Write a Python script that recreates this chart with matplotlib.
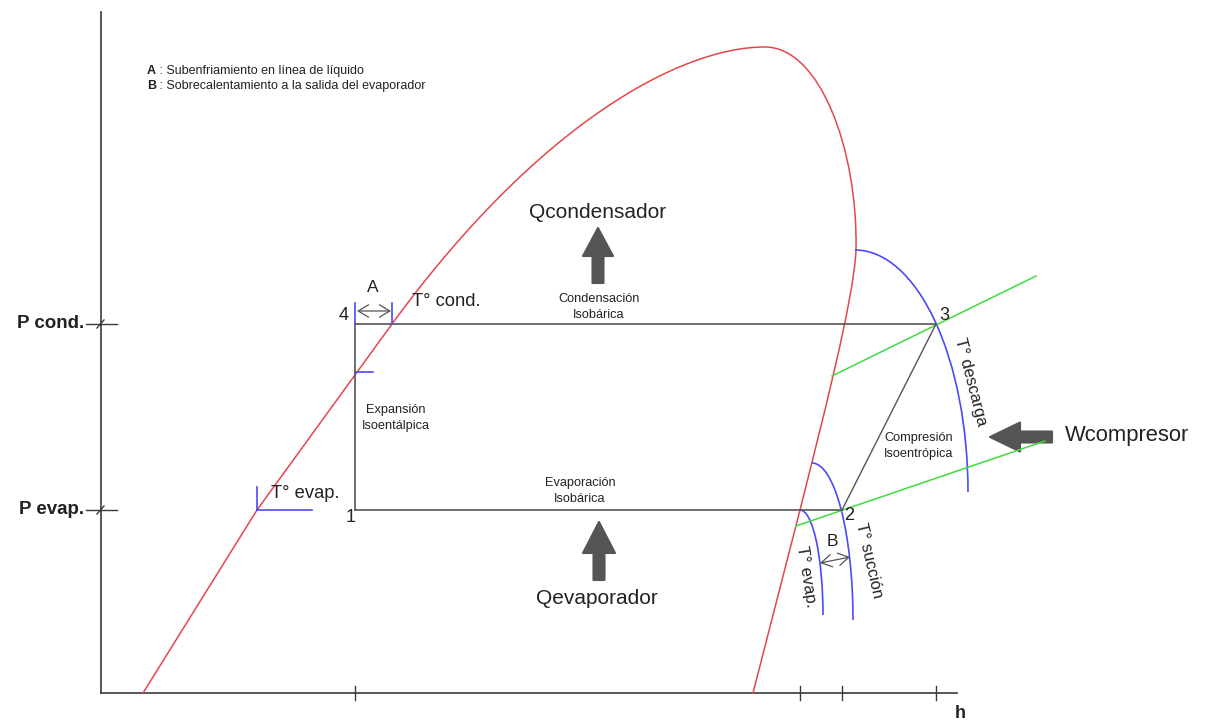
import matplotlib
matplotlib.use("Agg")
import matplotlib.pyplot as plt
from matplotlib.path import Path
from matplotlib.patches import PathPatch, Arc

plt.rcParams['font.family'] = ['Liberation Sans', 'DejaVu Sans']

# ---- diagram data (h on x, P on y, arbitrary units) ----
h_origin, P_origin = 101, 27
h_axis_end, P_axis_top = 957, 708
P_cond, P_evap = 396, 210
h_ticks = [355, 800, 842, 936]

# cycle states 1..4
h_state = {1: 355, 2: 842, 3: 936, 4: 355}
P_state = {1: P_evap, 2: P_evap, 3: P_cond, 4: P_cond}

# saturation dome: liquid branch, top and vapour branch (Bezier control points),
# then the straight lower end of the vapour branch
h_liq = [143, 257, 392]
P_liq = [27, 210, 396]
h_top = [392, 538, 680, 765, 820, 858, 856, 854, 820, 800]
P_top = [396, 596, 673, 673, 673, 570, 470, 420, 290, 210]
h_vap = [800, 753]
P_vap = [210, 27]

# isotherms in the superheated region: (h corner, P corner, h span, P span)
iso_evap = (800, 105, 23, 105)
iso_succ = (812, 100, 41, 157)
iso_desc = (855, 228, 113, 242)

# isentropes through states 2 and 3
h_s2 = [796, 1045]
P_s2 = [194, 279]
h_s3 = [832, 1036]
P_s3 = [344, 444]

RED = '#e3474c'
BLUE = '#4b4bf5'
GREEN = '#3fdc3f'
GREY = '#555555'
AX = '#3a3a3a'
TXT = '#222222'

fig = plt.figure(figsize=(12.06, 7.2), dpi=100)
ax = fig.add_axes([0, 0, 1, 1])
ax.set_xlim(0, 1206)
ax.set_ylim(0, 720)
ax.axis('off')

# axes
ax.plot([h_origin, h_origin], [P_origin, P_axis_top], color=AX, lw=1.2)
ax.plot([h_origin, h_axis_end], [P_origin, P_origin], color=AX, lw=1.2)
for h in h_ticks:
    ax.plot([h, h], [P_origin - 7, P_origin + 7], color=AX, lw=1.0)
for P in (P_cond, P_evap):
    ax.plot([h_origin - 15, h_origin + 16], [P, P], color=AX, lw=1.0)
    ax.plot([h_origin - 4, h_origin + 3], [P - 4, P + 4], color=AX, lw=1.0)
ax.text(h_origin - 17, P_cond, 'P cond.', ha='right', va='center',
        fontsize=13.5, fontweight='bold', color=TXT)
ax.text(h_origin - 17, P_evap, 'P evap.', ha='right', va='center',
        fontsize=13.5, fontweight='bold', color=TXT)
ax.text(955, 7, 'h', ha='left', va='center', fontsize=13,
        fontweight='bold', color=TXT)

# saturation dome
ax.plot(h_liq, P_liq, color=RED, lw=1.1)
top_path = Path(list(zip(h_top, P_top)),
                [Path.MOVETO] + [Path.CURVE4] * 9)
ax.add_patch(PathPatch(top_path, fc='none', ec=RED, lw=1.1))
ax.plot(h_vap, P_vap, color=RED, lw=1.1)

# isentropes
ax.plot(h_s2, P_s2, color=GREEN, lw=1.1)
ax.plot(h_s3, P_s3, color=GREEN, lw=1.1)

# isotherms
for hc, Pc, a, b in (iso_evap, iso_succ, iso_desc):
    ax.add_patch(Arc((hc, Pc), 2 * a, 2 * b, theta1=0, theta2=90,
                     color=BLUE, lw=1.2))

# refrigeration cycle
ax.plot([h_state[4], h_state[3]], [P_cond, P_cond], color=GREY, lw=1.2)
ax.plot([h_state[1], h_state[2]], [P_evap, P_evap], color=GREY, lw=1.2)
ax.plot([h_state[4], h_state[1]], [P_cond, P_evap], color=GREY, lw=1.2)
ax.plot([h_state[2], h_state[3]], [P_evap, P_cond], color=GREY, lw=1.0)

# blue marks on the liquid side
ax.plot([355, 355], [P_cond, P_cond + 21], color=BLUE, lw=1.2)
ax.plot([392, 392], [P_cond, P_cond + 21], color=BLUE, lw=1.2)
ax.plot([355, 373], [348, 348], color=BLUE, lw=1.2)
ax.plot([257, 257], [P_evap, P_evap + 23], color=BLUE, lw=1.2)
ax.plot([257, 312], [P_evap, P_evap], color=BLUE, lw=1.2)

# subcooling / superheat spans
arrow_kw = dict(arrowstyle='<->,head_length=0.5,head_width=0.3', color=GREY,
                lw=0.9, shrinkA=0, shrinkB=0, mutation_scale=15)
ax.annotate('', xy=(357, 409), xytext=(391, 409), arrowprops=arrow_kw)
ax.annotate('', xy=(820, 157), xytext=(850, 163), arrowprops=arrow_kw)
ax.text(373, 432, 'A', ha='center', va='center', fontsize=12.5, color=TXT)
ax.text(832, 178, 'B', ha='center', va='center', fontsize=12.5, color=TXT)

# state numbers
ax.text(349, 405, '4', ha='right', va='center', fontsize=13, color=TXT)
ax.text(351, 202, '1', ha='center', va='center', fontsize=13, color=TXT)
ax.text(844, 205, '2', ha='left', va='center', fontsize=13, color=TXT)
ax.text(939, 404, '3', ha='left', va='center', fontsize=13, color=TXT)

# temperature labels
ax.text(412, 418, 'T° cond.', ha='left', va='center', fontsize=13.2, color=TXT)
ax.text(271, 227, 'T° evap.', ha='left', va='center', fontsize=13.2, color=TXT)
ax.text(806, 143, 'T° evap.', ha='center', va='center', fontsize=12,
        rotation=-81, rotation_mode='anchor', color=TXT)
ax.text(869, 160, 'T° succión', ha='center', va='center', fontsize=11.8,
        rotation=-77, rotation_mode='anchor', color=TXT)
ax.text(971, 338, 'T° descarga', ha='center', va='center', fontsize=12,
        rotation=-75.5, rotation_mode='anchor', color=TXT)

# process labels
ax.text(599, 413, 'Condensación\nIsobárica', ha='center', va='center',
        fontsize=9.2, linespacing=1.4, color=TXT)
ax.text(580, 229, 'Evaporación\nIsobárica', ha='center', va='center',
        fontsize=9.2, linespacing=1.4, color=TXT)
ax.text(396, 302, 'Expansión\nIsoentálpica', ha='center', va='center',
        fontsize=9.2, linespacing=1.4, color=TXT)
ax.text(919, 274, 'Compresión\nIsoentrópica', ha='center', va='center',
        fontsize=9.2, linespacing=1.4, color=TXT)

# heat and work arrows
fat = dict(length_includes_head=True, fc=GREY, ec=GREY, lw=1.5,
           joinstyle='round')
ax.arrow(598, 437, 0, 55, width=11, head_width=30, head_length=28, **fat)
ax.arrow(599, 140, 0, 58, width=11, head_width=32, head_length=31, **fat)
ax.arrow(1052, 283, -62, 0, width=11, head_width=29, head_length=30, **fat)
ax.text(598, 508, 'Qcondensador', ha='center', va='center',
        fontsize=15, color=TXT)
ax.text(597, 122, 'Qevaporador', ha='center', va='center',
        fontsize=15, color=TXT)
ax.text(1065, 285, 'Wcompresor', ha='left', va='center',
        fontsize=15.8, color=TXT)

# legend notes
ax.text(147, 649, 'A', ha='left', va='center', fontsize=9,
        fontweight='bold', color=TXT)
ax.text(156, 649, ' : Subenfriamiento en línea de líquido', ha='left',
        va='center', fontsize=9, color=TXT)
ax.text(147, 634, 'B', ha='left', va='center', fontsize=9,
        fontweight='bold', color=TXT)
ax.text(156, 634, ' : Sobrecalentamiento a la salida del evaporador',
        ha='left', va='center', fontsize=9, color=TXT)

fig.savefig('out.png', dpi=100, facecolor='white')
